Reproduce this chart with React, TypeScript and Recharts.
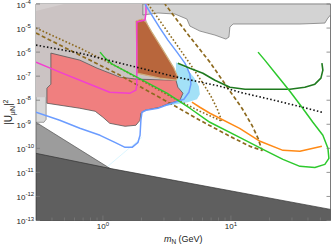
import React from "react";
import { ScatterChart, Scatter, XAxis, YAxis, Label } from "recharts";

type Pt = [number, number];

// axes: m_N in GeV, |U_muN|^2
const xDomain = [0.3, 60];
const yDomain = [1e-13, 1e-4];
const xMajor = [1, 10];
const xTicks = [0.4, 0.5, 0.6, 0.7, 0.8, 0.9, 1, 2, 3, 4, 5, 6, 7, 8, 9, 10, 20, 30, 40, 50];
const yTicks = [1e-13, 1e-12, 1e-11, 1e-10, 1e-9, 1e-8, 1e-7, 1e-6, 1e-5, 1e-4];

// shaded regions
const darkGray: Pt[] = [[0.3, 6.2e-11], [1.13, 1.47e-11], [60, 2.9e-13], [60, 1e-13], [0.3, 1e-13]];
const midGray: Pt[] = [[0.3, 1.21e-9], [1.15, 1.4e-11], [1.15, 1e-13], [0.3, 1e-13]];
const lightGrayLow: Pt[] = [[0.3, 2.6e-8], [0.36, 2.6e-8], [0.36, 1.6e-9], [0.346, 1.21e-9], [0.3, 1.21e-9]];
const warmGray: Pt[] = [
  [0.3, 1e-4], [2.05, 1e-4], [2.13, 3.16e-5], [2.33, 8.25e-6], [2.69, 1.96e-6], [3.11, 5.62e-7],
  [3.46, 2.15e-7], [3.72, 8.25e-8], [1.84, 6.8e-8], [0.392, 4.64e-7], [0.392, 4.64e-8],
  [0.365, 3.16e-8], [0.365, 1.33e-8], [0.3, 1.33e-8],
];
const warmGrayCorner: Pt[] = [[0.3, 1e-4], [0.3, 5.1e-5], [0.496, 1e-4]];
const topGray: Pt[] = [
  [2.05, 1e-4], [2.05, 3.48e-5], [2.69, 4.22e-5], [3.65, 3.83e-5], [4.53, 2.37e-5], [4.78, 1.21e-5],
  [5.72, 7.5e-6], [7.5, 5.1e-6], [9.14, 3.48e-6], [9.65, 4.22e-6], [9.82, 1.1e-5], [10.4, 1.47e-5],
  [34.6, 1.47e-5], [54.2, 1.61e-5], [57.3, 2.61e-5], [60, 3.48e-5], [60, 1e-4],
];
const brownRegion: Pt[] = [
  [1.81, 1.96e-5], [2.02, 2.37e-5], [2.17, 1.78e-5], [2.41, 6.8e-6], [2.79, 1.96e-6], [3.22, 5.62e-7],
  [3.59, 2.15e-7], [3.85, 9.1e-8], [3.72, 6.8e-8], [2.79, 8.25e-8], [1.84, 1.33e-7], [1.84, 1.21e-6],
];
const redRegion: Pt[] = [
  [0.392, 9.1e-7], [0.66, 4.64e-7], [0.9, 2.15e-7], [1.36, 9.1e-8], [1.84, 7.5e-8], [3.72, 6.8e-8],
  [3.85, 3.48e-8], [4.22, 1.96e-8], [4.0, 1e-8], [3.16, 6.8e-9], [2.79, 5.1e-9], [2.13, 3.83e-9],
  [1.98, 2.87e-9], [1.95, 1.47e-9], [1.81, 9.1e-10], [1.49, 8.25e-10], [1.13, 1.1e-9], [1.0, 1.96e-9],
  [0.87, 3.48e-9], [0.66, 4.64e-9], [0.365, 7.5e-9], [0.365, 3.16e-8], [0.392, 4.64e-8],
];
const cyanRegion: Pt[] = [
  [3.72, 3.83e-7], [4.45, 2.15e-7], [5.14, 9.1e-8], [5.62, 3.83e-8], [5.72, 1.78e-8], [5.43, 1.1e-8],
  [4.61, 8.25e-9], [3.72, 6.8e-9], [3.05, 5.62e-9], [3.34, 1.47e-8], [3.72, 4.22e-8],
];
const cyanEdge: Pt[] = [[1.09, 1.78e-11], [2.02, 2.87e-10]];

// sensitivity curves
const pinkLine: Pt[] = [
  [0.3, 3.83e-7], [0.46, 1.47e-7], [0.79, 4.64e-8], [1.13, 2.15e-8], [1.63, 1.96e-8], [1.81, 2.61e-8],
  [1.84, 4.22e-8], [1.84, 1.78e-5], [2.13, 2.15e-5], [2.17, 4.22e-5], [2.17, 1e-4],
];
const blueLine: Pt[] = [
  [0.3, 3.16e-9], [0.46, 1.47e-9], [0.66, 6.8e-10], [0.95, 3.48e-10], [1.24, 1.78e-10], [1.49, 1.1e-10],
  [1.69, 1.1e-10], [1.88, 1.78e-10], [1.95, 3.48e-10], [1.98, 1.47e-9], [2.02, 3.16e-9], [2.17, 3.83e-9],
  [2.69, 4.64e-9], [3.11, 6.19e-9], [3.85, 9.1e-9], [4.29, 1.1e-8], [4.7, 2.15e-8], [4.87, 4.64e-8],
  [4.78, 1.21e-7], [4.37, 3.48e-7], [3.79, 1e-6], [3.22, 3.16e-6], [2.79, 1e-5], [2.41, 3.48e-5], [2.13, 1e-4],
];
const greenLine: Pt[] = [
  [0.95, 1e-6], [1.04, 5.62e-7], [1.18, 3.16e-7], [1.84, 9.1e-8], [3.16, 1.96e-8], [4.78, 4.64e-9],
  [6.85, 1.21e-9], [11.7, 2.87e-10], [17.8, 9.1e-11], [25.5, 3.48e-11], [34.6, 1.78e-11], [45.3, 1.61e-11],
  [54.2, 2.15e-11], [58.3, 3.83e-11], [57.3, 1e-10], [52.3, 3.48e-10], [43.7, 1.21e-9], [35.9, 5.1e-9],
  [28.9, 2.37e-8], [22.9, 1.1e-7], [18.4, 4.64e-7], [16.3, 1e-6],
];
const darkGreenLine: Pt[] = [
  [3.85, 3.48e-7], [4.78, 2.15e-7], [6.04, 1.33e-7], [7.5, 6.8e-8], [9.82, 3.48e-8], [12.9, 2.87e-8],
  [20.2, 2.87e-8], [28.9, 2.87e-8], [37.8, 3.48e-8], [45.3, 4.64e-8], [50.5, 8.25e-8], [52.3, 1.78e-7],
  [51.4, 3.48e-7],
];
const blackDotted: Pt[] = [
  [0.3, 1.96e-6], [0.66, 9.1e-7], [1.36, 3.48e-7], [3.79, 9.1e-8], [8.2, 3.83e-8], [11.7, 2.15e-8],
  [20.2, 1.1e-8], [36.5, 5.1e-9], [51.4, 3.16e-9],
];
const brownDotted: Pt[] = [
  [0.3, 1e-5], [0.66, 1.47e-6], [1.36, 2.15e-7], [2.05, 6.19e-8], [3.34, 1.47e-8], [5.72, 3.48e-9],
  [8.51, 1.33e-9], [7.78, 4.64e-9], [6.98, 1.47e-8], [6.04, 5.1e-8], [5.05, 2.15e-7], [4.14, 1e-6],
  [3.34, 5.1e-6], [2.69, 2.61e-5], [2.25, 1e-4],
];
const brownDashed: Pt[] = [
  [0.3, 6.19e-6], [0.66, 7.5e-7], [1.36, 1.1e-7], [2.05, 3.16e-8], [3.34, 7.5e-9], [5.72, 1.47e-9],
  [9.82, 3.16e-10], [14.1, 1.21e-10], [17.5, 8.25e-11], [16.3, 2.61e-10], [14.6, 9.1e-10], [12.2, 4.64e-9],
  [9.48, 3.16e-8], [6.85, 3.83e-7], [4.53, 6.19e-6], [3.05, 1e-4],
];
const orangeLine: Pt[] = [
  [4.96, 8.25e-9], [5.72, 5.1e-9], [6.85, 2.87e-9], [11.7, 6.8e-10], [16.9, 1.96e-10], [25.5, 8.25e-11],
  [34.6, 7.5e-11], [51.4, 1.21e-10],
];

const FONT = "'Liberation Sans', Arial, Helvetica, sans-serif";
const FRAME = "#7a7a7a";

const toXY = (pts: Pt[]) => pts.map(([x, y]) => ({ x, y }));
const noDot = () => <g />;

function region(name: string, pts: Pt[], fill: string, stroke = "none", strokeWidth = 0.7) {
  return (
    <Scatter
      key={name}
      data={toXY([...pts, pts[0]])}
      shape={noDot}
      legendType="none"
      line={{ fill, stroke, strokeWidth, strokeLinejoin: "round" }}
      isAnimationActive={false}
    />
  );
}

function curve(name: string, pts: Pt[], stroke: string, strokeWidth = 1.5, dash?: string) {
  return (
    <Scatter
      key={name}
      data={toXY(pts)}
      shape={noDot}
      legendType="none"
      line={{ fill: "none", stroke, strokeWidth, strokeDasharray: dash, strokeLinejoin: "round" }}
      isAnimationActive={false}
    />
  );
}

const expOf = (v: number) => String(Math.round(Math.log10(v)));

function BottomTick(props: any) {
  const { x, y, payload } = props;
  const major = xMajor.includes(payload.value);
  return (
    <g>
      <line x1={x} x2={x} y1={y} y2={y - (major ? 5 : 3)} stroke={FRAME} strokeWidth={0.8} />
      {major && (
        <text x={x} y={y + 8.5} textAnchor="middle" fontFamily={FONT} fontSize={8} fill="#222">
          <tspan>10</tspan>
          <tspan dy={-3.5} fontSize={6}>{expOf(payload.value)}</tspan>
        </text>
      )}
    </g>
  );
}

function TopTick(props: any) {
  const { x, y, payload } = props;
  const major = xMajor.includes(payload.value);
  return <line x1={x} x2={x} y1={y} y2={y + (major ? 5 : 3)} stroke={FRAME} strokeWidth={0.8} />;
}

function LeftTick(props: any) {
  const { x, y, payload } = props;
  return (
    <g>
      <line x1={x} x2={x + 4} y1={y} y2={y} stroke={FRAME} strokeWidth={0.8} />
      <text x={16.5} y={y + 3.5} textAnchor="start" fontFamily={FONT} fontSize={8} fill="#222">
        <tspan>10</tspan>
        <tspan dy={-3.5} fontSize={6}>{expOf(payload.value)}</tspan>
      </text>
    </g>
  );
}

function RightTick(props: any) {
  const { x, y } = props;
  return <line x1={x} x2={x - 4} y1={y} y2={y} stroke={FRAME} strokeWidth={0.8} />;
}

function XTitle(props: any) {
  const vb = props.viewBox;
  return (
    <text x={vb.x + vb.width / 2} y={vb.y + 21} textAnchor="middle" fontFamily={FONT} fontSize={9} fill="#222">
      <tspan fontStyle="italic">m</tspan>
      <tspan dy={2.5} fontSize={6.5}>N</tspan>
      <tspan dy={-2.5}> (GeV)</tspan>
    </text>
  );
}

function YTitle(props: any) {
  const vb = props.viewBox;
  const cx = 12;
  const cy = vb.y + vb.height / 2;
  return (
    <text x={cx} y={cy} transform={`rotate(-90 ${cx} ${cy})`} textAnchor="middle" fontFamily={FONT} fontSize={10} fill="#222">
      <tspan>|U</tspan>
      <tspan dy={2.5} fontSize={7}>μN</tspan>
      <tspan dy={-2.5}>|</tspan>
      <tspan dy={-4} fontSize={7}>2</tspan>
    </text>
  );
}

export default function App() {
  return (
    <div style={{ width: 332, height: 246, background: "#fff" }}>
      <style>{"body{margin:0}"}</style>
      <ScatterChart width={332} height={246} margin={{ top: 0, right: 0, bottom: 0, left: 0 }}>
        <XAxis
          dataKey="x"
          type="number"
          scale="log"
          domain={xDomain}
          allowDataOverflow
          ticks={xTicks}
          interval={0}
          height={25.5}
          tickSize={0}
          tickMargin={0}
          tickLine={false}
          axisLine={{ stroke: FRAME }}
          tick={<BottomTick />}
        >
          <Label content={<XTitle />} />
        </XAxis>
        <XAxis
          xAxisId="top"
          orientation="top"
          type="number"
          scale="log"
          domain={xDomain}
          allowDataOverflow
          ticks={xTicks}
          interval={0}
          height={4}
          tickSize={0}
          tickMargin={0}
          tickLine={false}
          axisLine={{ stroke: FRAME }}
          tick={<TopTick />}
        />
        <YAxis
          dataKey="y"
          type="number"
          scale="log"
          domain={yDomain}
          allowDataOverflow
          ticks={yTicks}
          interval={0}
          width={36}
          tickSize={0}
          tickMargin={0}
          tickLine={false}
          axisLine={{ stroke: FRAME }}
          tick={<LeftTick />}
        >
          <Label content={<YTitle />} />
        </YAxis>
        <YAxis
          yAxisId="right"
          orientation="right"
          type="number"
          scale="log"
          domain={yDomain}
          allowDataOverflow
          ticks={yTicks}
          interval={0}
          width={1.5}
          tickSize={0}
          tickMargin={0}
          tickLine={false}
          axisLine={{ stroke: FRAME }}
          tick={<RightTick />}
        />

        {region("mid", midGray, "#9c9c9c", "#555")}
        {region("dark", darkGray, "#5f5f5f", "#333")}
        {region("lightLow", lightGrayLow, "#d8d8d8", "#666", 0.6)}
        {region("warm", warmGray, "#cbc3c3")}
        {region("warmCorner", warmGrayCorner, "#d4cfcf")}
        {region("top", topGray, "#d3d3d3", "#6e6e6e")}
        {region("cyan", cyanRegion, "#a3e1f7")}
        {region("red", redRegion, "#f07f7f", "#555", 0.8)}
        {region("brown", brownRegion, "#b8663c", "#cfae7d", 1.2)}
        {curve("cyanEdge", cyanEdge, "#c4f0ff", 0.6)}

        {curve("brownDotted", brownDotted, "#8d6a1f", 1.6, "1.6 2")}
        {curve("brownDashed", brownDashed, "#8d6a1f", 1.7, "4 2.5")}
        {curve("pink", pinkLine, "#f23fd0", 1.5)}
        {curve("blue", blueLine, "#6b9cff", 1.5)}
        {curve("darkGreen", darkGreenLine, "#1f7a1f", 1.6)}
        {curve("green", greenLine, "#2dc92d", 1.5)}
        {curve("orange", orangeLine, "#ff8a16", 1.5)}
        {curve("blackDotted", blackDotted, "#111", 1.6, "1.5 2.2")}
      </ScatterChart>
    </div>
  );
}
